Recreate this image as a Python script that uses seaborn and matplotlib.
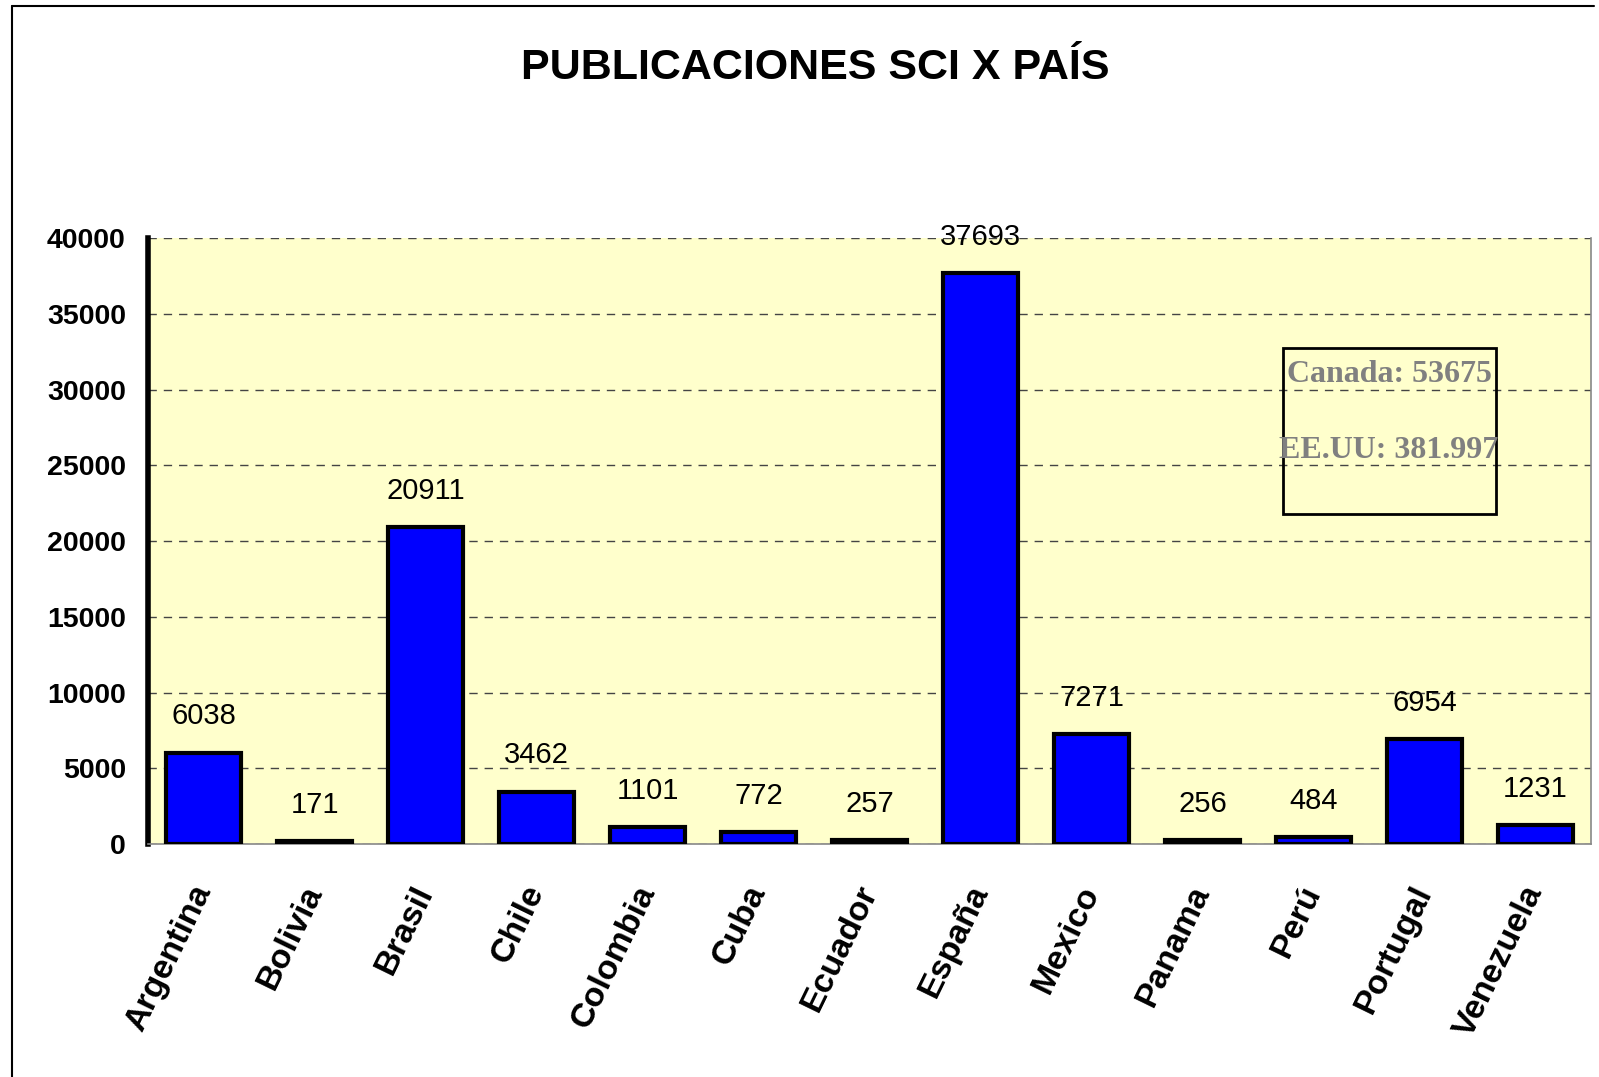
import matplotlib
matplotlib.use('Agg')
import matplotlib.pyplot as plt
import seaborn as sns
import pandas as pd
import numpy as np

# data
paises = ['Argentina', 'Bolivia', 'Brasil', 'Chile', 'Colombia', 'Cuba', 'Ecuador',
          'España', 'Mexico', 'Panama', 'Perú', 'Portugal', 'Venezuela']
publicaciones = [6038, 171, 20911, 3462, 1101, 772, 257, 37693, 7271, 256, 484, 6954, 1231]
yticks = [0, 5000, 10000, 15000, 20000, 25000, 30000, 35000, 40000]
nota = ['Canada: 53675', 'EE.UU: 381.997']

df = pd.DataFrame({'pais': paises, 'pub': publicaciones})

sns.set_style('white')
plt.rcParams['font.family'] = ['Liberation Sans', 'DejaVu Sans']
plt.rcParams['text.color'] = 'black'
plt.rcParams['xtick.color'] = 'black'
plt.rcParams['ytick.color'] = 'black'

fig = plt.figure(figsize=(15.99, 10.77), dpi=100)
ax = fig.add_axes([0.0926, 0.2163, 0.9024, 0.5627])
ax.set_facecolor('#FFFFCC')

sns.barplot(data=df, x='pais', y='pub', color='#0000FF', saturation=1,
            width=0.67, edgecolor='black', linewidth=3, ax=ax, zorder=3)

ax.set_ylim(0, 40000)
ax.set_xlim(-0.5, len(paises) - 0.5)
ax.set_yticks(yticks)
ax.set_yticklabels([str(v) for v in yticks], fontsize=20.5, fontweight='bold')
ax.yaxis.grid(True, linestyle=(0, (6, 5)), color='#444444', linewidth=1, zorder=0)
ax.set_axisbelow(True)

# x ticks at category boundaries like excel
ax.set_xticks(np.arange(len(paises)))
ax.set_xticklabels(paises, rotation=64, ha='right', va='center',
                   rotation_mode='anchor', fontsize=24.5, fontweight='bold')
ax.tick_params(axis='x', which='major', length=0, pad=31)
ax.set_xticks(np.arange(-0.5, len(paises)), minor=True)
ax.tick_params(axis='x', which='minor', length=10, width=1, color='#777777', direction='out')
ax.tick_params(axis='y', length=7, width=3, color='black', direction='out', pad=9)

ax.set_xlabel('')
ax.set_ylabel('')

for s in ['top', 'right', 'bottom']:
    ax.spines[s].set_color('#888888')
    ax.spines[s].set_linewidth(1.2)
ax.spines['top'].set_visible(False)
ax.spines['left'].set_color('black')
ax.spines['left'].set_linewidth(4)

for i, v in enumerate(publicaciones):
    ax.annotate(str(v), (i, v), xytext=(0, 26), textcoords='offset points',
                ha='center', va='center', fontsize=21, color='black')

fig.text(0.51, 0.937, 'PUBLICACIONES SCI X PAÍS', ha='center', va='center',
         fontsize=31, fontweight='bold', color='black')

# text box with other countries
ax.add_patch(plt.Rectangle((0.7866, 0.544), 0.1475, 0.275, transform=ax.transAxes,
                           fill=False, edgecolor='black', linewidth=2, zorder=5))
ax.text(0.860, 0.775, nota[0], transform=ax.transAxes, ha='center', va='center',
        fontsize=23, fontweight='bold', color='#808080', family='Liberation Serif', zorder=6)
ax.text(0.860, 0.650, nota[1], transform=ax.transAxes, ha='center', va='center',
        fontsize=23, fontweight='bold', color='#808080', family='Liberation Serif', zorder=6)

# outer chart border
fig.add_artist(plt.Line2D([12 / 1599, 12 / 1599], [0, 1 - 6 / 1077], color='black', linewidth=1.5))
fig.add_artist(plt.Line2D([12 / 1599, 1594 / 1599], [1 - 6 / 1077, 1 - 6 / 1077], color='black', linewidth=1.5))

fig.savefig('out.png', dpi=100)
